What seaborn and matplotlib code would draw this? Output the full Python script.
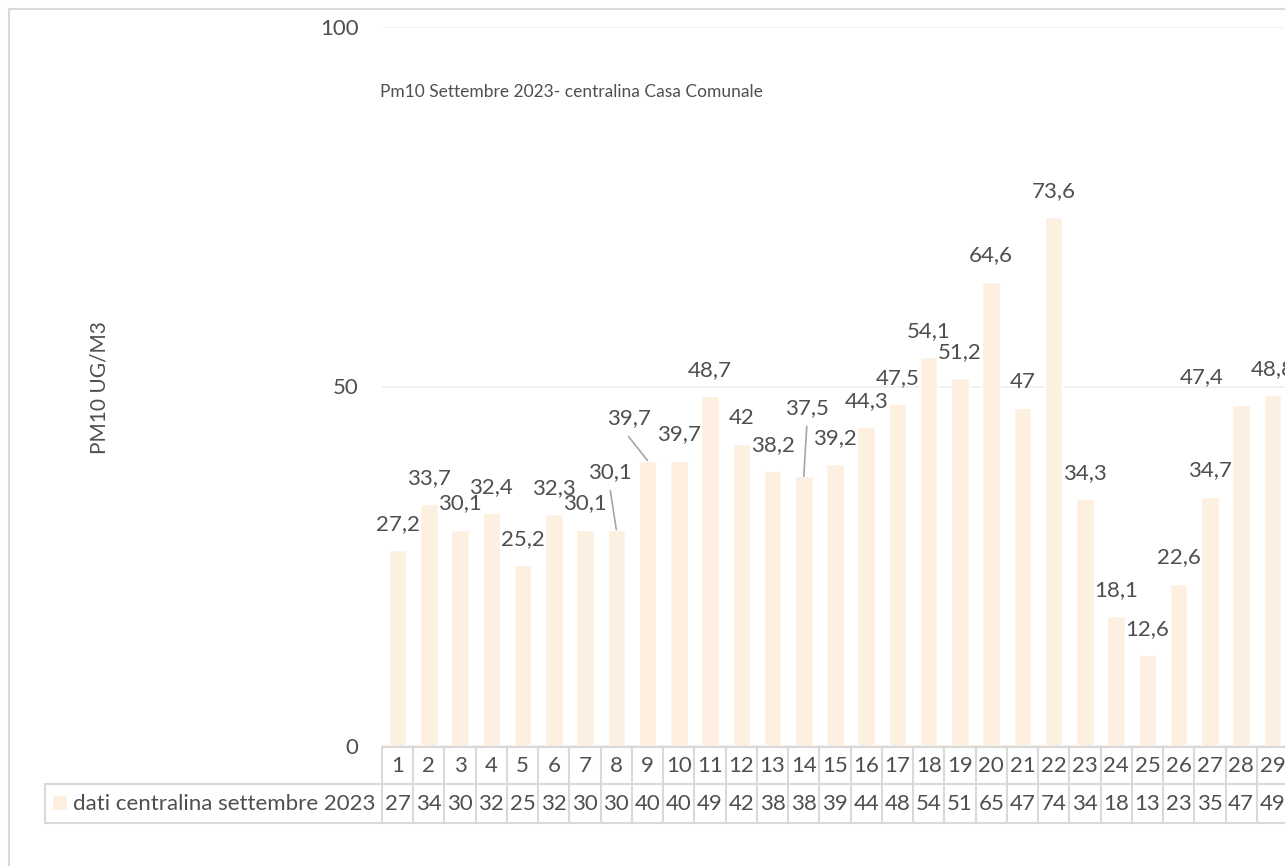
import pandas as pd
import seaborn as sns
import matplotlib.pyplot as plt
from matplotlib.lines import Line2D
from matplotlib.patches import Rectangle
from matplotlib.transforms import blended_transform_factory

# Data (days 1-29 of September 2023)
days = [str(d) for d in range(1, 30)]
pm10 = [27.2, 33.7, 30.1, 32.4, 25.2, 32.3, 30.1, 30.1, 39.7, 39.7,
        48.7, 42, 38.2, 37.5, 39.2, 44.3, 47.5, 54.1, 51.2, 64.6,
        47, 73.6, 34.3, 18.1, 12.6, 22.6, 34.7, 47.4, 48.8]
table_values = [27, 34, 30, 32, 25, 32, 30, 30, 40, 40,
                49, 42, 38, 38, 39, 44, 48, 54, 51, 65,
                47, 74, 34, 18, 13, 23, 35, 47, 49]
series_name = 'dati centralina settembre 2023'
title = 'Pm10 Settembre 2023- centralina Casa Comunale'
y_label = 'PM10 UG/M3'

df = pd.DataFrame({'day': days, 'pm10': pm10})

# Styling
sns.set_theme(style='white')
plt.rcParams['font.family'] = ['Lato', 'DejaVu Sans']
text_col = '#4F4F4F'
bar_col = '#FEF0E1'
line_col = '#D9D9D9'
fs = 16

W, H = 1285, 866
fig = plt.figure(figsize=(W / 100, H / 100), dpi=100)
ax = fig.add_axes([382 / W, (H - 746) / H, (1288 - 382) / W, (746 - 27) / H])

sns.barplot(data=df, x='day', y='pm10', color=bar_col, width=0.56,
            saturation=1, ax=ax)
ax.set_xlim(-0.5, 28.5)
ax.set_ylim(0, 100)
ax.set_yticks([0, 50, 100])
ax.yaxis.grid(True, color='#EFEFEF', lw=1.2)
ax.set_axisbelow(True)
for s in ax.spines.values():
    s.set_visible(False)
ax.tick_params(axis='y', length=0, pad=17, labelsize=fs, labelcolor=text_col)
ax.set_xticks([])
ax.set_xlabel('')
ax.set_ylabel('')

# data labels, a few were dragged away in the original
moved = {7: (-6, 57), 8: (-19, 42), 13: (3, 68), 27: (-39, 28)}
leaders = [7, 8, 13]
for i, v in enumerate(pm10):
    dx, dy = moved.get(i, (0, 26))
    ax.annotate(f'{v:g}'.replace('.', ','), xy=(i, v), xytext=(dx, dy),
                textcoords='offset pixels', ha='center', va='center',
                fontsize=fs, color=text_col, annotation_clip=False)
    if i in leaders:
        ax.annotate('', xy=(i, v), xytext=(dx, dy - 18),
                    textcoords='offset pixels',
                    arrowprops=dict(arrowstyle='-', color='#A6A6A6', lw=1.2,
                                    shrinkA=0, shrinkB=0))

# title inside the plot area
fig.text(380 / W, (H - 92) / H, title, ha='left', va='center', fontsize=12.5,
         color=text_col)
fig.text(100 / W, (H - 388) / H, y_label, rotation=90, ha='center',
         va='center', fontsize=15, color=text_col)

# data table under the bars
tr = blended_transform_factory(ax.transData, fig.transFigure)
y1, y2, y3 = [(H - p) / H for p in (747, 784, 823)]
for i in range(len(days) + 1):
    fig.add_artist(Line2D([i - 0.5, i - 0.5], [y1, y3], transform=tr,
                          color=line_col, lw=1.5))
fig.add_artist(Line2D([-0.5, 29], [y1, y1], transform=tr, color=line_col, lw=1.5))
for yy in (y2, y3):
    fig.add_artist(Line2D([45 / W, 1], [yy, yy], transform=fig.transFigure,
                          color=line_col, lw=1.5))
fig.add_artist(Line2D([45 / W, 45 / W], [y2, y3], transform=fig.transFigure,
                      color=line_col, lw=1.5))
for i, (d, t) in enumerate(zip(days, table_values)):
    fig.text(i, (y1 + y2) / 2, d, transform=tr, ha='center', va='center',
             fontsize=fs, color=text_col)
    fig.text(i, (y2 + y3) / 2, str(t), transform=tr, ha='center', va='center',
             fontsize=fs, color=text_col)
fig.add_artist(Rectangle((53 / W, (H - 810) / H), 14 / W, 14 / H,
                         transform=fig.transFigure, color=bar_col, lw=0))
fig.text(73 / W, (y2 + y3) / 2, series_name, ha='left', va='center',
         fontsize=fs, color=text_col)

# chart frame (only top and left edges fall inside the picture)
fig.add_artist(Rectangle((9 / W, -0.1), 1.2, (H - 9) / H + 0.1,
                         transform=fig.transFigure, fill=False,
                         edgecolor=line_col, lw=1.5))

fig.savefig('out.png', dpi=100)
